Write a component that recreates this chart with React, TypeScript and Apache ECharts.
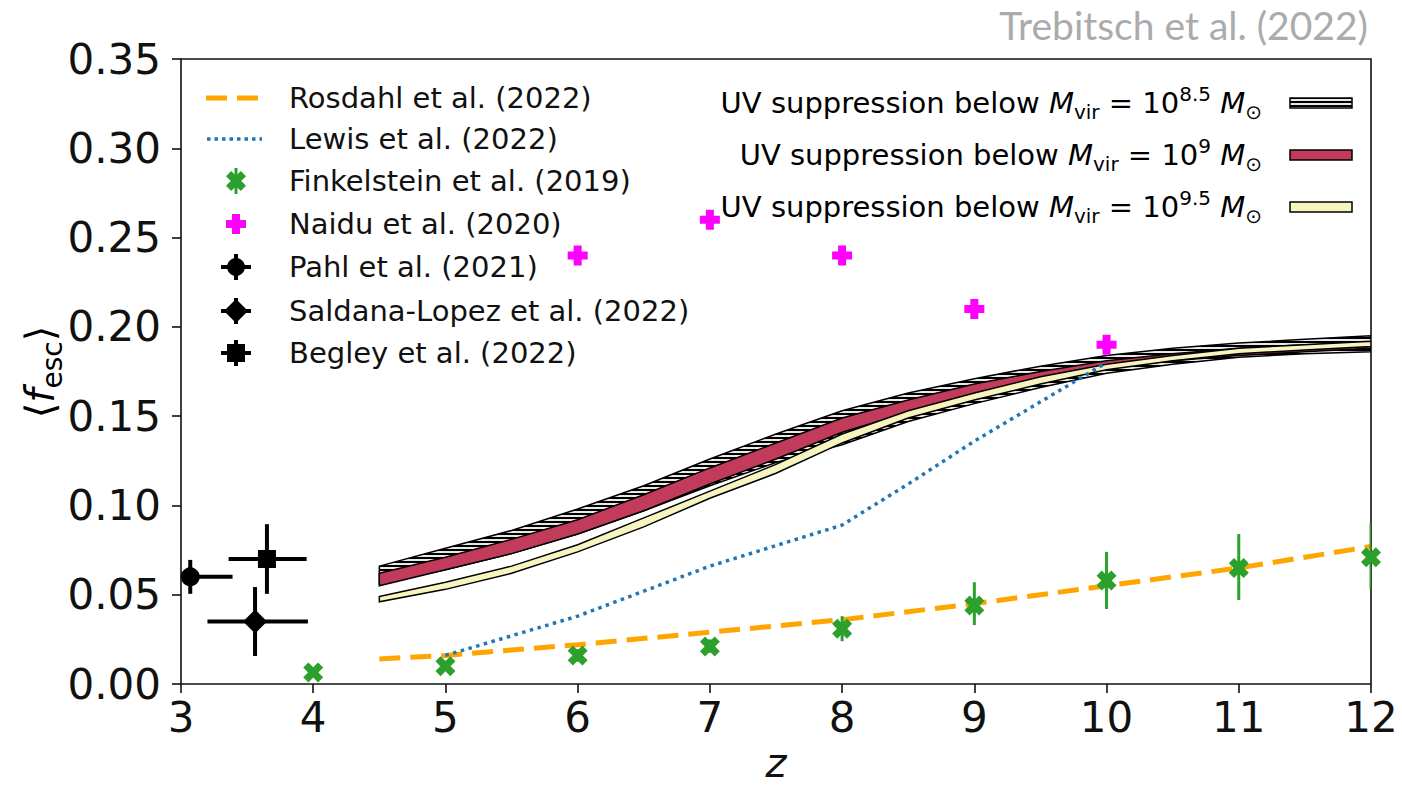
import React, { useEffect, useRef } from "react";
import * as echarts from "echarts";

// ---- axes ----
const X_TICKS = [3, 4, 5, 6, 7, 8, 9, 10, 11, 12];
const Y_TICKS = ["0.00", "0.05", "0.10", "0.15", "0.20", "0.25", "0.30", "0.35"];

// ---- simulation bands: UV suppression thresholds ----
const Z_GRID = [4.5, 5, 5.5, 6, 6.5, 7, 7.5, 8, 8.5, 9, 9.5, 10, 10.5, 11, 11.5, 12];
const UV85_LO = [0.056, 0.064, 0.073, 0.084, 0.097, 0.111, 0.124, 0.134, 0.147, 0.157, 0.166, 0.174, 0.179, 0.183, 0.185, 0.186];
const UV85_HI = [0.066, 0.076, 0.086, 0.098, 0.111, 0.126, 0.14, 0.153, 0.163, 0.171, 0.178, 0.184, 0.188, 0.191, 0.193, 0.195];
const UV9_LO = [0.055, 0.064, 0.073, 0.084, 0.097, 0.112, 0.126, 0.141, 0.152, 0.162, 0.17, 0.177, 0.181, 0.184, 0.186, 0.188];
const UV9_HI = [0.062, 0.071, 0.081, 0.092, 0.106, 0.121, 0.135, 0.149, 0.159, 0.168, 0.175, 0.181, 0.185, 0.188, 0.19, 0.191];
const UV95_LO = [0.046, 0.053, 0.062, 0.074, 0.088, 0.104, 0.118, 0.135, 0.149, 0.159, 0.168, 0.176, 0.181, 0.185, 0.187, 0.189];
const UV95_HI = [0.049, 0.057, 0.066, 0.078, 0.093, 0.108, 0.123, 0.14, 0.153, 0.163, 0.172, 0.179, 0.184, 0.188, 0.19, 0.192];

// ---- model curves ----
const ROSDAHL_Z = [4.5, 5, 6, 7, 8, 9, 10, 11, 12];
const ROSDAHL_F = [0.014, 0.016, 0.022, 0.029, 0.036, 0.045, 0.055, 0.065, 0.077];
const LEWIS_Z = [5, 6, 7, 8, 8.5, 9, 9.5, 10];
const LEWIS_F = [0.016, 0.038, 0.066, 0.089, 0.112, 0.136, 0.158, 0.18];

// ---- observations ----
const FINK_Z = [4, 5, 6, 7, 8, 9, 10, 11, 12];
const FINK_F = [0.0065, 0.01, 0.016, 0.021, 0.031, 0.044, 0.058, 0.065, 0.071];
const FINK_LO = [0.005, 0.008, 0.0125, 0.0175, 0.024, 0.033, 0.042, 0.047, 0.053];
const FINK_HI = [0.008, 0.0125, 0.0195, 0.025, 0.038, 0.057, 0.074, 0.084, 0.09];

const NAIDU_Z = [6, 7, 8, 9, 10];
const NAIDU_F = [0.24, 0.26, 0.24, 0.21, 0.19];

// [z, f, zLow, zHigh, fLow, fHigh]
const PAHL = [3.07, 0.06, 2.75, 3.39, 0.0505, 0.0695];
const SALDANA = [3.56, 0.035, 3.2, 3.96, 0.0157, 0.0543];
const BEGLEY = [3.65, 0.07, 3.36, 3.95, 0.0505, 0.0895];

const FONT = "DejaVu Sans";
const INK = "#111111";
const ORANGE = "#ffa500";
const BLUE = "#1f77b4";
const GREEN = "#2ca02c";
const MAGENTA = "#ff00ff";
const RED = "#c23b5b";
const CREAM = "#f7f4bf";
const LEGEND_SIZE = 29;
const TICK_SIZE = 42;

const X_PATH = "M0,2.6 L2.6,0 L5,2.4 L7.4,0 L10,2.6 L7.6,5 L10,7.4 L7.4,10 L5,7.6 L2.6,10 L0,7.4 L2.4,5 Z";
const P_PATH = "M3,0 L7,0 L7,3 L10,3 L10,7 L7,7 L7,10 L3,10 L3,7 L0,7 L0,3 L3,3 Z";

function pathPoints(d: string, cx: number, cy: number, size: number) {
  const nums = d.match(/-?[\d.]+/g)!.map(Number);
  const pts: number[][] = [];
  for (let i = 0; i + 1 < nums.length; i += 2) {
    pts.push([cx + (nums[i] / 10 - 0.5) * size, cy + (nums[i + 1] / 10 - 0.5) * size]);
  }
  return pts;
}

// horizontal hatch tile for the lowest-threshold band
function makeHatch() {
  const c = document.createElement("canvas");
  c.width = 8;
  c.height = 4;
  const ctx = c.getContext("2d")!;
  ctx.fillStyle = "#e8e8e8";
  ctx.fillRect(0, 0, 8, 4);
  ctx.fillStyle = "#000000";
  ctx.fillRect(0, 1, 8, 2);
  return c;
}

function bandSeries(name: string, lo: number[], hi: number[], fill: any) {
  return {
    type: "custom",
    name,
    coordinateSystem: "cartesian2d",
    clip: true,
    data: Z_GRID.map((z, i) => [z, lo[i], hi[i]]),
    encode: { x: 0, y: [1, 2] },
    renderItem: (params: any, api: any) => {
      if (params.dataIndex !== 0) return null;
      const upper = Z_GRID.map((z, i) => api.coord([z, hi[i]]));
      const lower = Z_GRID.map((z, i) => api.coord([z, lo[i]])).reverse();
      return {
        type: "polygon",
        shape: { points: upper.concat(lower) },
        style: { fill, stroke: "#000", lineWidth: 1.5 },
      };
    },
  };
}

function errorSeries(name: string, rows: number[][], color: string, width: number) {
  return {
    type: "custom",
    name,
    coordinateSystem: "cartesian2d",
    clip: true,
    data: rows,
    encode: { x: [0, 2, 3], y: [1, 4, 5] },
    renderItem: (_p: any, api: any) => {
      const z = api.value(0);
      const f = api.value(1);
      const children: any[] = [];
      const x0 = api.value(2), x1 = api.value(3), y0 = api.value(4), y1 = api.value(5);
      if (x1 > x0) {
        const a = api.coord([x0, f]);
        const b = api.coord([x1, f]);
        children.push({ type: "line", shape: { x1: a[0], y1: a[1], x2: b[0], y2: b[1] }, style: { stroke: color, lineWidth: width } });
      }
      if (y1 > y0) {
        const a = api.coord([z, y0]);
        const b = api.coord([z, y1]);
        children.push({ type: "line", shape: { x1: a[0], y1: a[1], x2: b[0], y2: b[1] }, style: { stroke: color, lineWidth: width } });
      }
      return { type: "group", children };
    },
  };
}

function mathRich(size: number, color: string) {
  const small = Math.round(size * 0.7);
  const lh = Math.round(size * 1.3);
  const slh = Math.round(small * 1.0);
  return {
    n: { fontSize: size, fontFamily: FONT, color, lineHeight: lh },
    i: { fontSize: size, fontFamily: FONT, fontStyle: "italic", color, lineHeight: lh },
    sub: { fontSize: small, fontFamily: FONT, color, verticalAlign: "bottom", lineHeight: slh },
    sup: { fontSize: small, fontFamily: FONT, color, verticalAlign: "top", lineHeight: slh },
  };
}

function legendGraphics(hatch: any) {
  const els: any[] = [];
  const rowY = [98, 139, 181, 224, 267, 311, 353];
  const names = [
    "Rosdahl et al. (2022)",
    "Lewis et al. (2022)",
    "Finkelstein et al. (2019)",
    "Naidu et al. (2020)",
    "Pahl et al. (2021)",
    "Saldana-Lopez et al. (2022)",
    "Begley et al. (2022)",
  ];
  const mx = 236;
  names.forEach((t, k) => {
    els.push({
      type: "text",
      x: 289,
      y: rowY[k],
      style: { text: t, fontSize: LEGEND_SIZE, fontFamily: FONT, fill: INK, align: "left", verticalAlign: "middle" },
    });
  });
  els.push({ type: "line", shape: { x1: 206, y1: rowY[0], x2: 262, y2: rowY[0] }, style: { stroke: ORANGE, lineWidth: 5, lineDash: [21, 10] } });
  els.push({ type: "line", shape: { x1: 207, y1: rowY[1], x2: 262, y2: rowY[1] }, style: { stroke: BLUE, lineWidth: 3.5, lineDash: [3.5, 4] } });
  // error-bar crosses behind markers
  const cross = (y: number, color: string, w: number, hx: number, hy: number) => {
    if (hx > 0) els.push({ type: "line", shape: { x1: mx - hx, y1: y, x2: mx + hx, y2: y }, style: { stroke: color, lineWidth: w } });
    els.push({ type: "line", shape: { x1: mx, y1: y - hy, x2: mx, y2: y + hy }, style: { stroke: color, lineWidth: w } });
  };
  cross(rowY[2], GREEN, 3, 0, 13);
  els.push({ type: "polygon", shape: { points: pathPoints(X_PATH, mx, rowY[2], 20) }, style: { fill: GREEN } });
  els.push({ type: "polygon", shape: { points: pathPoints(P_PATH, mx, rowY[3], 20) }, style: { fill: MAGENTA } });
  cross(rowY[4], "#000", 4, 15, 13);
  els.push({ type: "circle", shape: { cx: mx, cy: rowY[4], r: 9 }, style: { fill: "#000" } });
  cross(rowY[5], "#000", 4, 15, 13);
  els.push({ type: "polygon", shape: { points: [[mx, rowY[5] - 12], [mx + 12, rowY[5]], [mx, rowY[5] + 12], [mx - 12, rowY[5]]] }, style: { fill: "#000" } });
  cross(rowY[6], "#000", 4, 15, 13);
  els.push({ type: "rect", shape: { x: mx - 9, y: rowY[6] - 9, width: 18, height: 18 }, style: { fill: "#000" } });

  // right-hand legend for the simulation bands
  const bandRows = [
    { y: 103, exp: "8.5", fill: hatch },
    { y: 155, exp: "9", fill: RED },
    { y: 207, exp: "9.5", fill: CREAM },
  ];
  bandRows.forEach((r) => {
    els.push({
      type: "text",
      x: 1262,
      y: r.y,
      style: {
        text: `{n|UV suppression below }{i|M}{sub|vir}{n| = 10}{sup|${r.exp}}{i| M}{sub|⊙}`,
        rich: mathRich(LEGEND_SIZE, INK),
        align: "right",
        verticalAlign: "middle",
      },
    });
    els.push({ type: "rect", shape: { x: 1290, y: r.y - 5, width: 62, height: 10 }, style: { fill: r.fill, stroke: "#000", lineWidth: 1.5 } });
  });
  return els;
}

function buildOption(hatch: any) {
  const pattern = { image: hatch, repeat: "repeat", imageWidth: 8, imageHeight: 4 };
  return {
    animation: false,
    backgroundColor: "#ffffff",
    grid: { left: 181, right: 31, top: 59, bottom: 104, show: true, borderColor: INK, borderWidth: 1.6, backgroundColor: "transparent" },
    xAxis: {
      type: "value",
      min: X_TICKS[0],
      max: X_TICKS[X_TICKS.length - 1],
      interval: 1,
      axisLine: { show: false },
      axisTick: { show: true, length: 9, lineStyle: { color: INK, width: 1.6 } },
      splitLine: { show: false },
      axisLabel: { fontSize: TICK_SIZE, fontFamily: FONT, color: INK, margin: 12, formatter: (v: number) => String(Math.round(v)) },
    },
    yAxis: {
      type: "value",
      min: 0,
      max: 0.35,
      interval: 0.05,
      axisLine: { show: false },
      axisTick: { show: true, length: 9, lineStyle: { color: INK, width: 1.6 } },
      splitLine: { show: false },
      axisLabel: { fontSize: TICK_SIZE, fontFamily: FONT, color: INK, margin: 20, formatter: (v: number) => Y_TICKS[Math.round(v / 0.05)] },
    },
    graphic: [
      ...legendGraphics(pattern),
      {
        type: "text",
        x: 1368,
        y: 25,
        style: { text: "Trebitsch et al. (2022)", fontSize: 39, fontFamily: "Lato", fill: "#ababab", align: "right", verticalAlign: "middle" },
      },
      {
        type: "text",
        x: 776,
        y: 763,
        style: { text: "z", fontSize: 40, fontFamily: FONT, fontStyle: "italic", fill: INK, align: "center", verticalAlign: "middle" },
      },
      {
        type: "text",
        x: 40,
        y: 372,
        rotation: Math.PI / 2,
        style: { text: "{n|⟨}{i|f}{sub|esc}{n|⟩}", rich: mathRich(40, INK), align: "center", verticalAlign: "middle" },
      },
    ],
    series: [
      bandSeries("UV 8.5", UV85_LO, UV85_HI, pattern),
      bandSeries("UV 9", UV9_LO, UV9_HI, RED),
      bandSeries("UV 9.5", UV95_LO, UV95_HI, CREAM),
      {
        type: "line",
        name: "Rosdahl et al. (2022)",
        data: ROSDAHL_Z.map((z, i) => [z, ROSDAHL_F[i]]),
        showSymbol: false,
        lineStyle: { color: ORANGE, width: 5, type: [21, 10] },
        z: 3,
      },
      {
        type: "line",
        name: "Lewis et al. (2022)",
        data: LEWIS_Z.map((z, i) => [z, LEWIS_F[i]]),
        showSymbol: false,
        lineStyle: { color: BLUE, width: 3.5, type: [3.5, 4.5] },
        z: 3,
      },
      { ...errorSeries("Finkelstein err", FINK_Z.map((z, i) => [z, FINK_F[i], z, z, FINK_LO[i], FINK_HI[i]]), GREEN, 3), z: 4 },
      {
        type: "scatter",
        name: "Finkelstein et al. (2019)",
        data: FINK_Z.map((z, i) => [z, FINK_F[i]]),
        symbol: "path://" + X_PATH,
        symbolSize: 20,
        itemStyle: { color: GREEN, opacity: 1 },
        z: 5,
      },
      {
        type: "scatter",
        name: "Naidu et al. (2020)",
        data: NAIDU_Z.map((z, i) => [z, NAIDU_F[i]]),
        symbol: "path://" + P_PATH,
        symbolSize: 20,
        itemStyle: { color: MAGENTA, opacity: 1 },
        z: 5,
      },
      { ...errorSeries("Local err", [PAHL, SALDANA, BEGLEY], "#000", 4), z: 4 },
      { type: "scatter", name: "Pahl et al. (2021)", data: [[PAHL[0], PAHL[1]]], symbol: "circle", symbolSize: 19, itemStyle: { color: "#000", opacity: 1 }, z: 5 },
      { type: "scatter", name: "Saldana-Lopez et al. (2022)", data: [[SALDANA[0], SALDANA[1]]], symbol: "diamond", symbolSize: 24, itemStyle: { color: "#000", opacity: 1 }, z: 5 },
      { type: "scatter", name: "Begley et al. (2022)", data: [[BEGLEY[0], BEGLEY[1]]], symbol: "rect", symbolSize: 18, itemStyle: { color: "#000", opacity: 1 }, z: 5 },
    ],
  };
}

export default function App() {
  const ref = useRef<HTMLDivElement>(null);
  useEffect(() => {
    const chart = echarts.init(ref.current!, null, { renderer: "svg" });
    chart.setOption(buildOption(makeHatch()) as any);
    return () => chart.dispose();
  }, []);
  return <div ref={ref} style={{ position: "absolute", left: 0, top: 0, width: 1402, height: 788, background: "#fff" }} />;
}
